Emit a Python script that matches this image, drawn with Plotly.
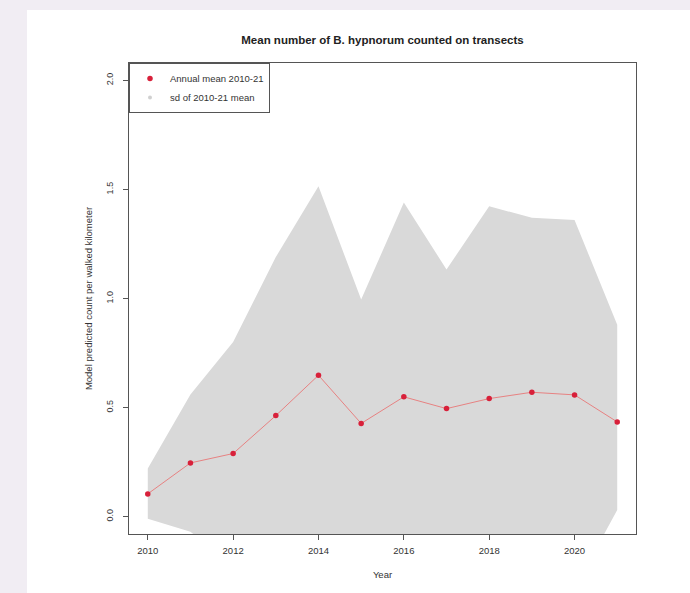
import plotly.graph_objects as go

years = [2010, 2011, 2012, 2013, 2014, 2015, 2016, 2017, 2018, 2019, 2020, 2021]
annual_mean = [0.104, 0.246, 0.289, 0.463, 0.648, 0.427, 0.549, 0.495, 0.541, 0.570, 0.558, 0.434]
sd_upper = [0.22, 0.56, 0.80, 1.19, 1.515, 0.995, 1.44, 1.133, 1.423, 1.37, 1.36, 0.88]
sd_lower = [-0.01, -0.07, -0.22, -0.27, -0.22, -0.14, -0.34, -0.14, -0.34, -0.23, -0.33, 0.03]

x_ticks = [2010, 2012, 2014, 2016, 2018, 2020]
y_ticks = [0.0, 0.5, 1.0, 1.5, 2.0]
y_ticklabels = ["0.0", "0.5", "1.0", "1.5", "2.0"]

title_text = "Mean number of B. hypnorum counted on transects"
x_title = "Year"
y_title = "Model predicted count per walked kilometer"
mean_name = "Annual mean 2010-21"
sd_name = "sd of 2010-21 mean"

FONT = "Liberation Sans, Arial, Helvetica, sans-serif"
W, H = 690, 593
L, R, T, B = 129, 54, 63, 59

fig = go.Figure()

# sd band polygon
fig.add_trace(go.Scatter(
    x=years + years[::-1],
    y=sd_upper + sd_lower[::-1],
    mode="lines",
    fill="toself",
    fillcolor="#d9d9d9",
    line=dict(width=0, color="#d9d9d9"),
    showlegend=False,
    hoverinfo="skip",
))

# mean line
fig.add_trace(go.Scatter(
    x=years, y=annual_mean, mode="lines",
    line=dict(color="rgba(235,100,100,0.75)", width=1),
    showlegend=False, hoverinfo="skip",
))

# mean points
fig.add_trace(go.Scatter(
    x=years, y=annual_mean, mode="markers",
    marker=dict(color="#d8203a", size=5.5, line=dict(width=0)),
    name=mean_name,
))

# legend-only entry for sd
fig.add_trace(go.Scatter(
    x=[None], y=[None], mode="markers",
    marker=dict(color="#d0d0d0", size=4),
    name=sd_name,
))

axis_common = dict(
    showline=True, linecolor="#555555", linewidth=1, mirror=True,
    ticks="outside", ticklen=5, tickcolor="#555555", tickwidth=1,
    showgrid=False, zeroline=False,
)

fig.update_xaxes(
    range=[2009.56, 2021.44], tickvals=x_ticks,
    tickfont=dict(family=FONT, size=9.5, color="#333333"),
    ticklabelstandoff=3,
    title=dict(text=x_title, font=dict(family=FONT, size=9.5, color="#333333"), standoff=15),
    **axis_common,
)
fig.update_yaxes(
    range=[-0.08, 2.08], tickvals=y_ticks, ticktext=y_ticklabels, tickangle=-90,
    tickfont=dict(family=FONT, size=9, color="#333333"),
    ticklabelstandoff=6,
    title=dict(text=y_title, font=dict(family=FONT, size=9.5, color="#333333"), standoff=11),
    **axis_common,
)

fig.update_layout(
    width=W, height=H,
    margin=dict(l=L, r=R, t=T, b=B, autoexpand=False),
    paper_bgcolor="#f1edf3",
    plot_bgcolor="white",
    title=dict(text="<b>" + title_text + "</b>", x=0.5, xref="paper", xanchor="center",
               y=1 - 40 / H, yref="container", yanchor="middle",
               font=dict(family=FONT, size=11.5, color="#222222")),
    legend=dict(x=0, y=1, xanchor="left", yanchor="top",
                bordercolor="#555555", borderwidth=1, bgcolor="white",
                font=dict(family=FONT, size=9.5, color="#333333"),
                itemwidth=30, tracegroupgap=0),
    shapes=[dict(type="rect", xref="paper", yref="paper",
                 x0=(27 - L) / (W - L - R), x1=(W - L) / (W - L - R),
                 y0=-B / (H - T - B), y1=(H - 10 - B) / (H - T - B),
                 fillcolor="white", line=dict(width=0), layer="below")],
    showlegend=True,
)

fig.write_html("out.html")
